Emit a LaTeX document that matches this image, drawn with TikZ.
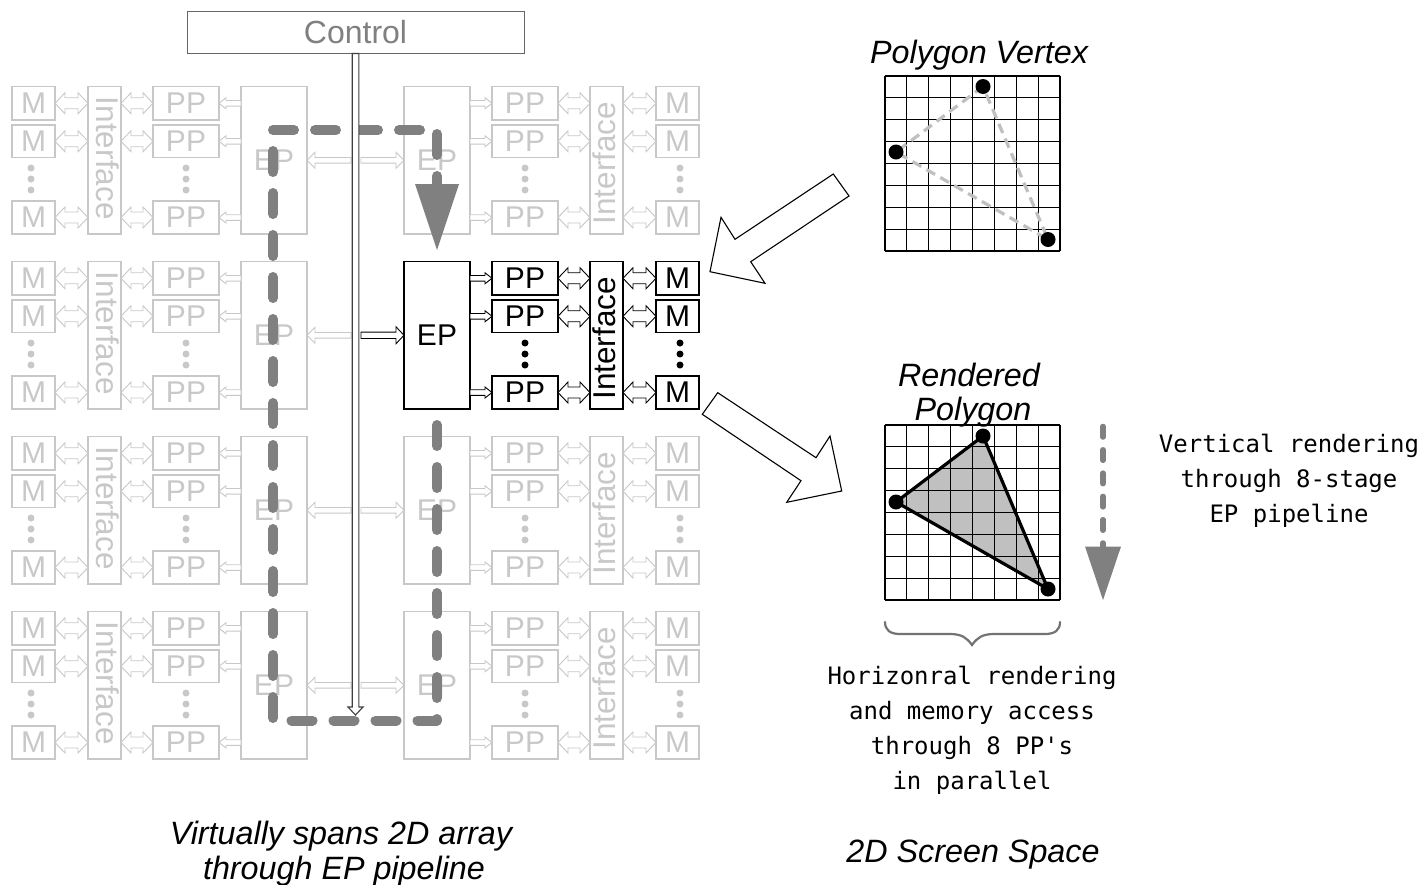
\documentclass[tikz,border=0pt]{standalone}
\usepackage{fontspec}
\setmainfont{Liberation Sans}
\newfontfamily\monof{DejaVu Sans Mono}
\usetikzlibrary{calc}
\definecolor{faint}{HTML}{C8C8C8}
\definecolor{midg}{HTML}{808080}
\definecolor{polyfill}{HTML}{C0C0C0}
\tikzset{
  unit/.style={draw=\linecol,line width=1.2pt,inner sep=0,outer sep=0,text=\linecol,font=\fontsize{30}{30}\selectfont,fill=white},
  % horizontal hollow arrow: half shaft, half head, head length
  hollowh/.style n args={3}{draw=\linecol,fill=white,line width=.9pt,line join=miter,
    to path={let \p1=(\tikztostart),\p2=(\tikztotarget),\p3=($(\tikztotarget)!#3!(\tikztostart)$) in
      ({\x1},{\y1+#1}) -- ({\x3},{\y1+#1}) -- ({\x3},{\y1+#2}) -- ({\x2},{\y1}) -- ({\x3},{\y1-#2}) -- ({\x3},{\y1-#1}) -- ({\x1},{\y1-#1}) -- cycle}},
  hollowtwo/.style={draw=\linecol,fill=white,line width=.9pt,
    to path={let \p1=(\tikztostart),\p2=(\tikztotarget),\p3=($(\tikztotarget)!10pt!(\tikztostart)$),\p4=($(\tikztostart)!10pt!(\tikztotarget)$) in
      ({\x4},{\y1+5.5pt}) -- ({\x3},{\y1+5.5pt}) -- ({\x3},{\y1+10.5pt}) -- ({\x2},{\y1}) -- ({\x3},{\y1-10.5pt}) -- ({\x3},{\y1-5.5pt}) -- ({\x4},{\y1-5.5pt}) -- ({\x4},{\y1-10.5pt}) -- ({\x1},{\y1}) -- ({\x4},{\y1+10.5pt}) -- cycle}},
  busarrow/.style={draw=black!75,fill=white,line width=1.1pt,
    to path={let \p1=(\tikztostart),\p2=(\tikztotarget),\p3=($(\tikztotarget)!8pt!(\tikztostart)$) in
      ({\x1-3.3pt},{\y1}) -- ({\x1-3.3pt},{\y3}) -- ({\x1-7.5pt},{\y3}) -- ({\x1},{\y2}) -- ({\x1+7.5pt},{\y3}) -- ({\x1+3.3pt},{\y3}) -- ({\x1+3.3pt},{\y1}) -- cycle}},
  dotm/.style={circle,fill=\linecol,inner sep=0,minimum size=7pt},
  ital/.style={font=\fontsize{32.3}{32.3}\selectfont\itshape,inner sep=0},
  mono/.style={font=\fontsize{24}{24}\selectfont\monof,inner sep=0},
  vert/.style={circle,fill=black,inner sep=0,minimum size=15pt},
  gridline/.style={black,line width=1.1pt},
}
% #1 prefix, #2 top y; layout comes from \mx \mw \ix \px \ex \irot \pside \eside \dsh \ish \ishx
\newcommand{\blockrow}[2]{%
  \node[unit,minimum width=\mw pt,minimum height=33.5pt,anchor=north west] (#1m1) at (\mx,#2) {M};
  \node[unit,minimum width=\mw pt,minimum height=32.5pt,anchor=north west] (#1m2) at (\mx,#2+38.5) {M};
  \node[unit,minimum width=\mw pt,minimum height=33pt,anchor=north west] (#1m3) at (\mx,#2+114.5) {M};
  \node[unit,minimum width=66pt,minimum height=33.5pt,anchor=north west] (#1p1) at (\px,#2) {PP};
  \node[unit,minimum width=66pt,minimum height=32.5pt,anchor=north west] (#1p2) at (\px,#2+38.5) {PP};
  \node[unit,minimum width=66pt,minimum height=33pt,anchor=north west] (#1p3) at (\px,#2+114.5) {PP};
  \node[unit,minimum width=33pt,minimum height=147.5pt,anchor=north west] (#1i) at (\ix,#2) {};
  \node[rotate=\irot,text=\linecol,font=\fontsize{31.5}{31.5}\selectfont,inner sep=0] (#1it) at ($(#1i.center)+(\ishx,\ish)$) {Interface};
  \node[unit,minimum width=66pt,minimum height=147.5pt,anchor=north west] (#1e) at (\ex,#2) {EP};
  \foreach \k in {1,2,3}{
    \draw[hollowtwo] (#1m\k.\mside) to (#1i.\mopp |- #1m\k.\mside);
    \draw[hollowtwo] (#1p\k.\mopp) to (#1i.\mside |- #1p\k.\mopp);
    \draw[hollowh={2.8pt}{5.5pt}{7pt}] (#1e.\pside |- #1p\k.\eside) to (#1p\k.\eside);
  }
  \foreach \k/\dy in {a/81.5,b/92.5,c/103.5}{
    \node[dotm] (#1dm\k) at ($(#1m2.center |- 0,#2+\dy)+(\dsh,0)$) {};
    \node[dotm] (#1dp\k) at ($(#1p2.center |- 0,#2+\dy)$) {};
  }
}
\begin{document}
\begin{tikzpicture}[x=1pt,y=-1pt]
\useasboundingbox (0,0) rectangle (1424,884);
\fill[white] (0,0) rectangle (1424,884);
\def\linecol{faint}
% left columns
\def\mx{12}\def\mw{43}\def\ix{88}\def\px{153}\def\ex{241}\def\irot{-90}\def\pside{west}\def\eside{east}\def\mside{east}\def\mopp{west}\def\dsh{-2.5}\def\ish{-2}\def\ishx{3}
\foreach \rn/\ytop in {la/86.5,lb/261.5,lc/436.5,ld/611.5}{\blockrow{\rn}{\ytop}}
\def\mx{656}\def\ix{590}\def\px{492}\def\ex{404}\def\irot{90}\def\pside{east}\def\eside{west}\def\mside{west}\def\mopp{east}\def\dsh{2.5}\def\ish{3}\def\ishx{-2.5}
\foreach \rn/\ytop in {ra/86.5,rc/436.5,rd/611.5}{\blockrow{\rn}{\ytop}}
\def\linecol{black}
\blockrow{rb}{261.5}
\def\linecol{faint}
% control
\node[draw=black!60,line width=1pt,fill=white,minimum width=337pt,minimum height=42pt,inner sep=0,text=midg,font=\fontsize{32}{32}\selectfont] (ctrl) at (355.5,32) {Control};
\coordinate (busend) at (355.5,715);
\coordinate (lefta) at (351,0);
\coordinate (righta) at (361,0);
\foreach \rn in {la,lb,lc,ld}{
  \draw[hollowh={2.8pt}{8pt}{8pt}] (\rn e.center -| lefta) to (\rn e.east);
}
\foreach \rn in {ra,rc,rd}{
  \draw[hollowh={2.8pt}{8pt}{8pt}] (\rn e.center -| righta) to (\rn e.west);
}
\begin{scope}
\def\linecol{black}
\draw[hollowh={3.2pt}{8.5pt}{8pt}] (rbe.center -| righta) to (rbe.west);
\end{scope}
% dashed path
\draw[midg,line width=10pt,line cap=round,line join=round,dash pattern=on 21pt off 21pt]
  (437,425) -- (437,720.5) -- (273,720.5) -- (273,130) -- (437,130) -- (437,195);
\fill[midg] (415,184) -- (459,184) -- (437,250) -- cycle;
% bus
\draw[busarrow] (ctrl.south) to (busend);
% grids
\coordinate (a1) at (983,86.5);
\coordinate (a2) at (896,152);
\coordinate (a3) at (1048,239.5);
\coordinate (b1) at (983,436);
\coordinate (b2) at (896,502);
\coordinate (b3) at (1048,589);
\fill[polyfill] (b1) -- (b2) -- (b3) -- cycle;
\foreach \t in {76,425}{
  \foreach \i in {0,...,8}{
    \draw[gridline] (885+\i*21.875,\t) -- (885+\i*21.875,\t+175);
    \draw[gridline] (885,\t+\i*21.875) -- (1060,\t+\i*21.875);
  }
}
\draw[polyfill,line width=3.2pt,dash pattern=on 10pt off 6pt] (a1) -- (a2) -- (a3) -- (a1);
\draw[black,line width=3.2pt,line join=round] (b1) -- (b2) -- (b3) -- cycle;
\foreach \v in {a1,a2,a3,b1,b2,b3}{\node[vert] (n\v) at (\v) {};}
% big arrows
\draw[black,line width=1.1pt,fill=white] (710,271.7) -- (721,217.3) -- (735,239.3) -- (833.3,174) -- (849,196) -- (750.7,261.7) -- (765,283.3) -- cycle;
\draw[black,line width=1.1pt,fill=white] (841.7,491) -- (786.7,502.3) -- (801,480.7) -- (702.3,414.3) -- (717.7,392.7) -- (816,457.7) -- (830,436) -- cycle;
% vertical dashed arrow
\draw[midg,line width=5.5pt,line cap=round,dash pattern=on 10.5pt off 12.8pt] (1103,426.5) -- (1103,548);
\fill[midg] (1085,546.5) -- (1121,546.5) -- (1103,600) -- cycle;
% brace
\draw[black!55,line width=2.2pt,line cap=round] (885,622) .. controls (885,630) and (890,634) .. (900,634) -- (950,634) .. controls (962,634) and (967,638) .. (972,645) .. controls (977,638) and (982,634) .. (994,634) -- (1045,634) .. controls (1055,634) and (1060,630) .. (1060,622);
% texts
\node[ital] (t1) at (979,55) {Polygon Vertex};
\node[ital] (t2) at (969,374.5) {Rendered};
\node[ital] (t3) at (973,412.5) {Polygon};
\node[ital] (t4) at (341,836) {Virtually spans 2D array};
\node[ital] (t5) at (344,871) {through EP pipeline};
\node[ital] (t6) at (973,854.5) {2D Screen Space};
\node[mono] (m1) at (1289,446) {Vertical rendering};
\node[mono] (m2) at (1289,481) {through 8-stage};
\node[mono] (m3) at (1289,516) {EP pipeline};
\node[mono] (h1) at (972,678) {Horizonral rendering};
\node[mono] (h2) at (972,713) {and memory access};
\node[mono] (h3) at (972,748) {through 8 PP's};
\node[mono] (h4) at (972,783) {in parallel};
\end{tikzpicture}
\end{document}
